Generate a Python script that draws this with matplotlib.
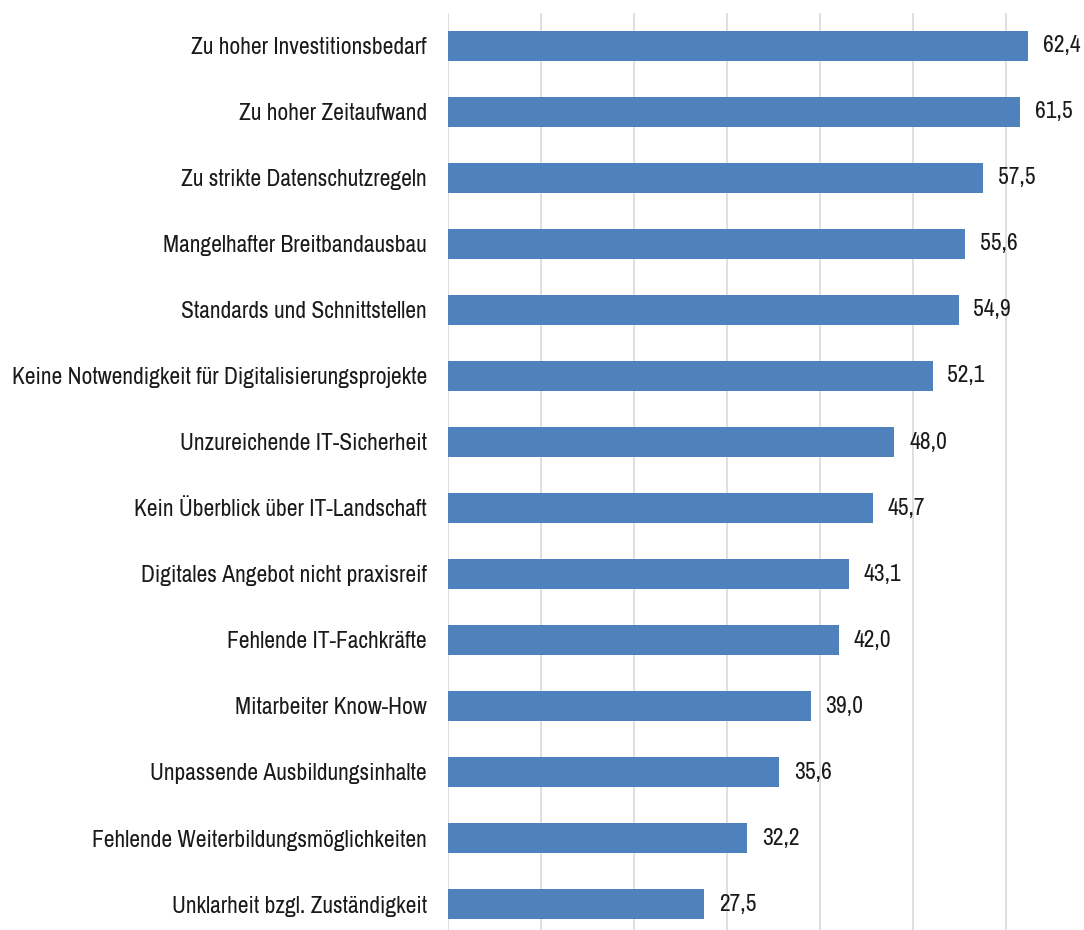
import matplotlib
matplotlib.use("Agg")
import matplotlib.pyplot as plt
from matplotlib import font_manager

categories = [
    "Zu hoher Investitionsbedarf",
    "Zu hoher Zeitaufwand",
    "Zu strikte Datenschutzregeln",
    "Mangelhafter Breitbandausbau",
    "Standards und Schnittstellen",
    "Keine Notwendigkeit für Digitalisierungsprojekte",
    "Unzureichende IT-Sicherheit",
    "Kein Überblick über IT-Landschaft",
    "Digitales Angebot nicht praxisreif",
    "Fehlende IT-Fachkräfte",
    "Mitarbeiter Know-How",
    "Unpassende Ausbildungsinhalte",
    "Fehlende Weiterbildungsmöglichkeiten",
    "Unklarheit bzgl. Zuständigkeit",
]
values = [62.4, 61.5, 57.5, 55.6, 54.9, 52.1, 48.0, 45.7, 43.1, 42.0, 39.0, 35.6, 32.2, 27.5]

names = {f.name for f in font_manager.fontManager.ttflist}
family = next((f for f in ["Archivo Narrow", "PT Sans Narrow", "Roboto Condensed", "DejaVu Sans"]
               if f in names), "DejaVu Sans")
plt.rcParams["font.family"] = [family, "DejaVu Sans"]

W, H = 1084, 930
fig = plt.figure(figsize=(W / 100, H / 100), dpi=100)
renderer = fig.canvas.get_renderer()

# choose a font size so the longest category label is about 417 px wide
probe = fig.text(0, 0, max(categories, key=len), fontsize=16)
width = probe.get_window_extent(renderer).width
probe.remove()
fs = 16 * 417 / width

left, right, top, bottom = 448, 1084, 13, 930
ax = fig.add_axes([left / W, 1 - bottom / H, (right - left) / W, (bottom - top) / H])

pos = list(range(len(categories)))
ax.barh(pos, values, height=0.455, color="#4F81BD", zorder=3)

ax.set_xlim(0, (right - left) / 9.3)
ax.set_ylim(13 + (930 - 904) / 66, -0.5)
ax.set_xticks([0, 10, 20, 30, 40, 50, 60])
ax.xaxis.grid(True, color="#D9D9D9", linewidth=1.2, zorder=0)
ax.tick_params(axis="x", length=0, labelbottom=False)
ax.tick_params(axis="y", length=0, pad=15.3)
ax.set_yticks(pos)
ax.set_yticklabels(categories, fontsize=fs, color="#1a1a1a")
for s in ax.spines.values():
    s.set_visible(False)

for p, v in zip(pos, values):
    ax.text(v + 1.6, p, f"{v:.1f}".replace(".", ","), va="center", ha="left",
            fontsize=fs, color="#1a1a1a", zorder=4)

fig.savefig("out.png", dpi=100)
